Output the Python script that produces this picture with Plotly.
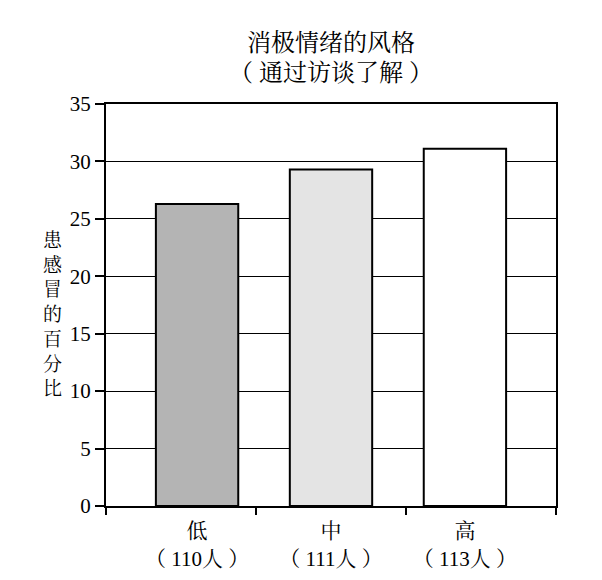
import plotly.graph_objects as go

categories = ["低", "中", "高"]
group_sizes = ["（ 110人 ）", "（ 111人 ）", "（ 113人 ）"]
values = [26.3, 29.3, 31.1]
bar_colors = ["#b4b4b4", "#e4e4e4", "#ffffff"]
y_ticks = [0, 5, 10, 15, 20, 25, 30, 35]
title_lines = ["消极情绪的风格", "（ 通过访谈了解 ）"]
y_title = "患感冒的百分比"

FONT = "Liberation Serif, Noto Serif CJK SC, Noto Sans CJK SC, serif"

# page body has an 8px margin; keep the whole figure inside the 602x580 window
W, H = 586, 564
ML, MR, MT, MB = 98, 38, 96, 66
plot_h = H - MT - MB

positions = list(range(1, len(categories) + 1))
x_range = [0.32, len(categories) + 0.68]

fig = go.Figure()
fig.add_trace(go.Bar(
    x=positions, y=values,
    marker=dict(color=bar_colors, line=dict(color="black", width=2)),
    width=0.615,
))
# invisible trace to activate the secondary x-axis (boundary ticks)
fig.add_trace(go.Scatter(x=x_range, y=[0, 0], xaxis="x2", mode="lines",
                         line=dict(width=0), hoverinfo="skip"))

fig.update_layout(
    width=W, height=H,
    margin=dict(l=ML, r=MR, t=MT, b=MB),
    paper_bgcolor="white", plot_bgcolor="white",
    showlegend=False,
    font=dict(family=FONT, color="black", size=20),
    xaxis=dict(
        range=x_range, tickvals=positions, automargin=False,
        ticktext=[f"{c}<br>{g}" for c, g in zip(categories, group_sizes)],
        ticks="", showline=True, linecolor="black", linewidth=2, mirror=True,
        showgrid=False, zeroline=False, ticklabelstandoff=5,
        tickfont=dict(size=21, family=FONT),
    ),
    xaxis2=dict(
        overlaying="x", side="bottom", range=x_range, automargin=False,
        tickmode="linear", tick0=x_range[0],
        dtick=(x_range[1] - x_range[0]) / len(categories),
        ticks="outside", ticklen=8, tickwidth=1.5, tickcolor="black",
        showticklabels=False, showline=False, showgrid=False, zeroline=False,
    ),
    yaxis=dict(
        range=[0, 35], tickvals=y_ticks, automargin=False,
        ticks="outside", ticklen=9, tickwidth=1.5, tickcolor="black",
        showline=True, linecolor="black", linewidth=2, mirror=True,
        showgrid=True, gridcolor="black", gridwidth=1.2,
        zeroline=False, tickfont=dict(size=21, family=FONT),
    ),
)

# title lines (centres ~61 and ~31 px above the plot frame)
for i, line in enumerate(title_lines):
    fig.add_annotation(
        text=line, xref="paper", yref="paper",
        x=0.5, y=1 + (61 - 30 * i) / plot_h, xanchor="center", yanchor="middle",
        showarrow=False, font=dict(size=24, family=FONT),
    )

# vertical y-axis title, one character per line
fig.add_annotation(
    text="<br>".join(y_title), xref="paper", yref="paper",
    x=0, xshift=-53, y=(192 / plot_h),
    xanchor="center", yanchor="middle",
    showarrow=False, font=dict(size=19, family=FONT),
)

fig.write_html("out.html")
